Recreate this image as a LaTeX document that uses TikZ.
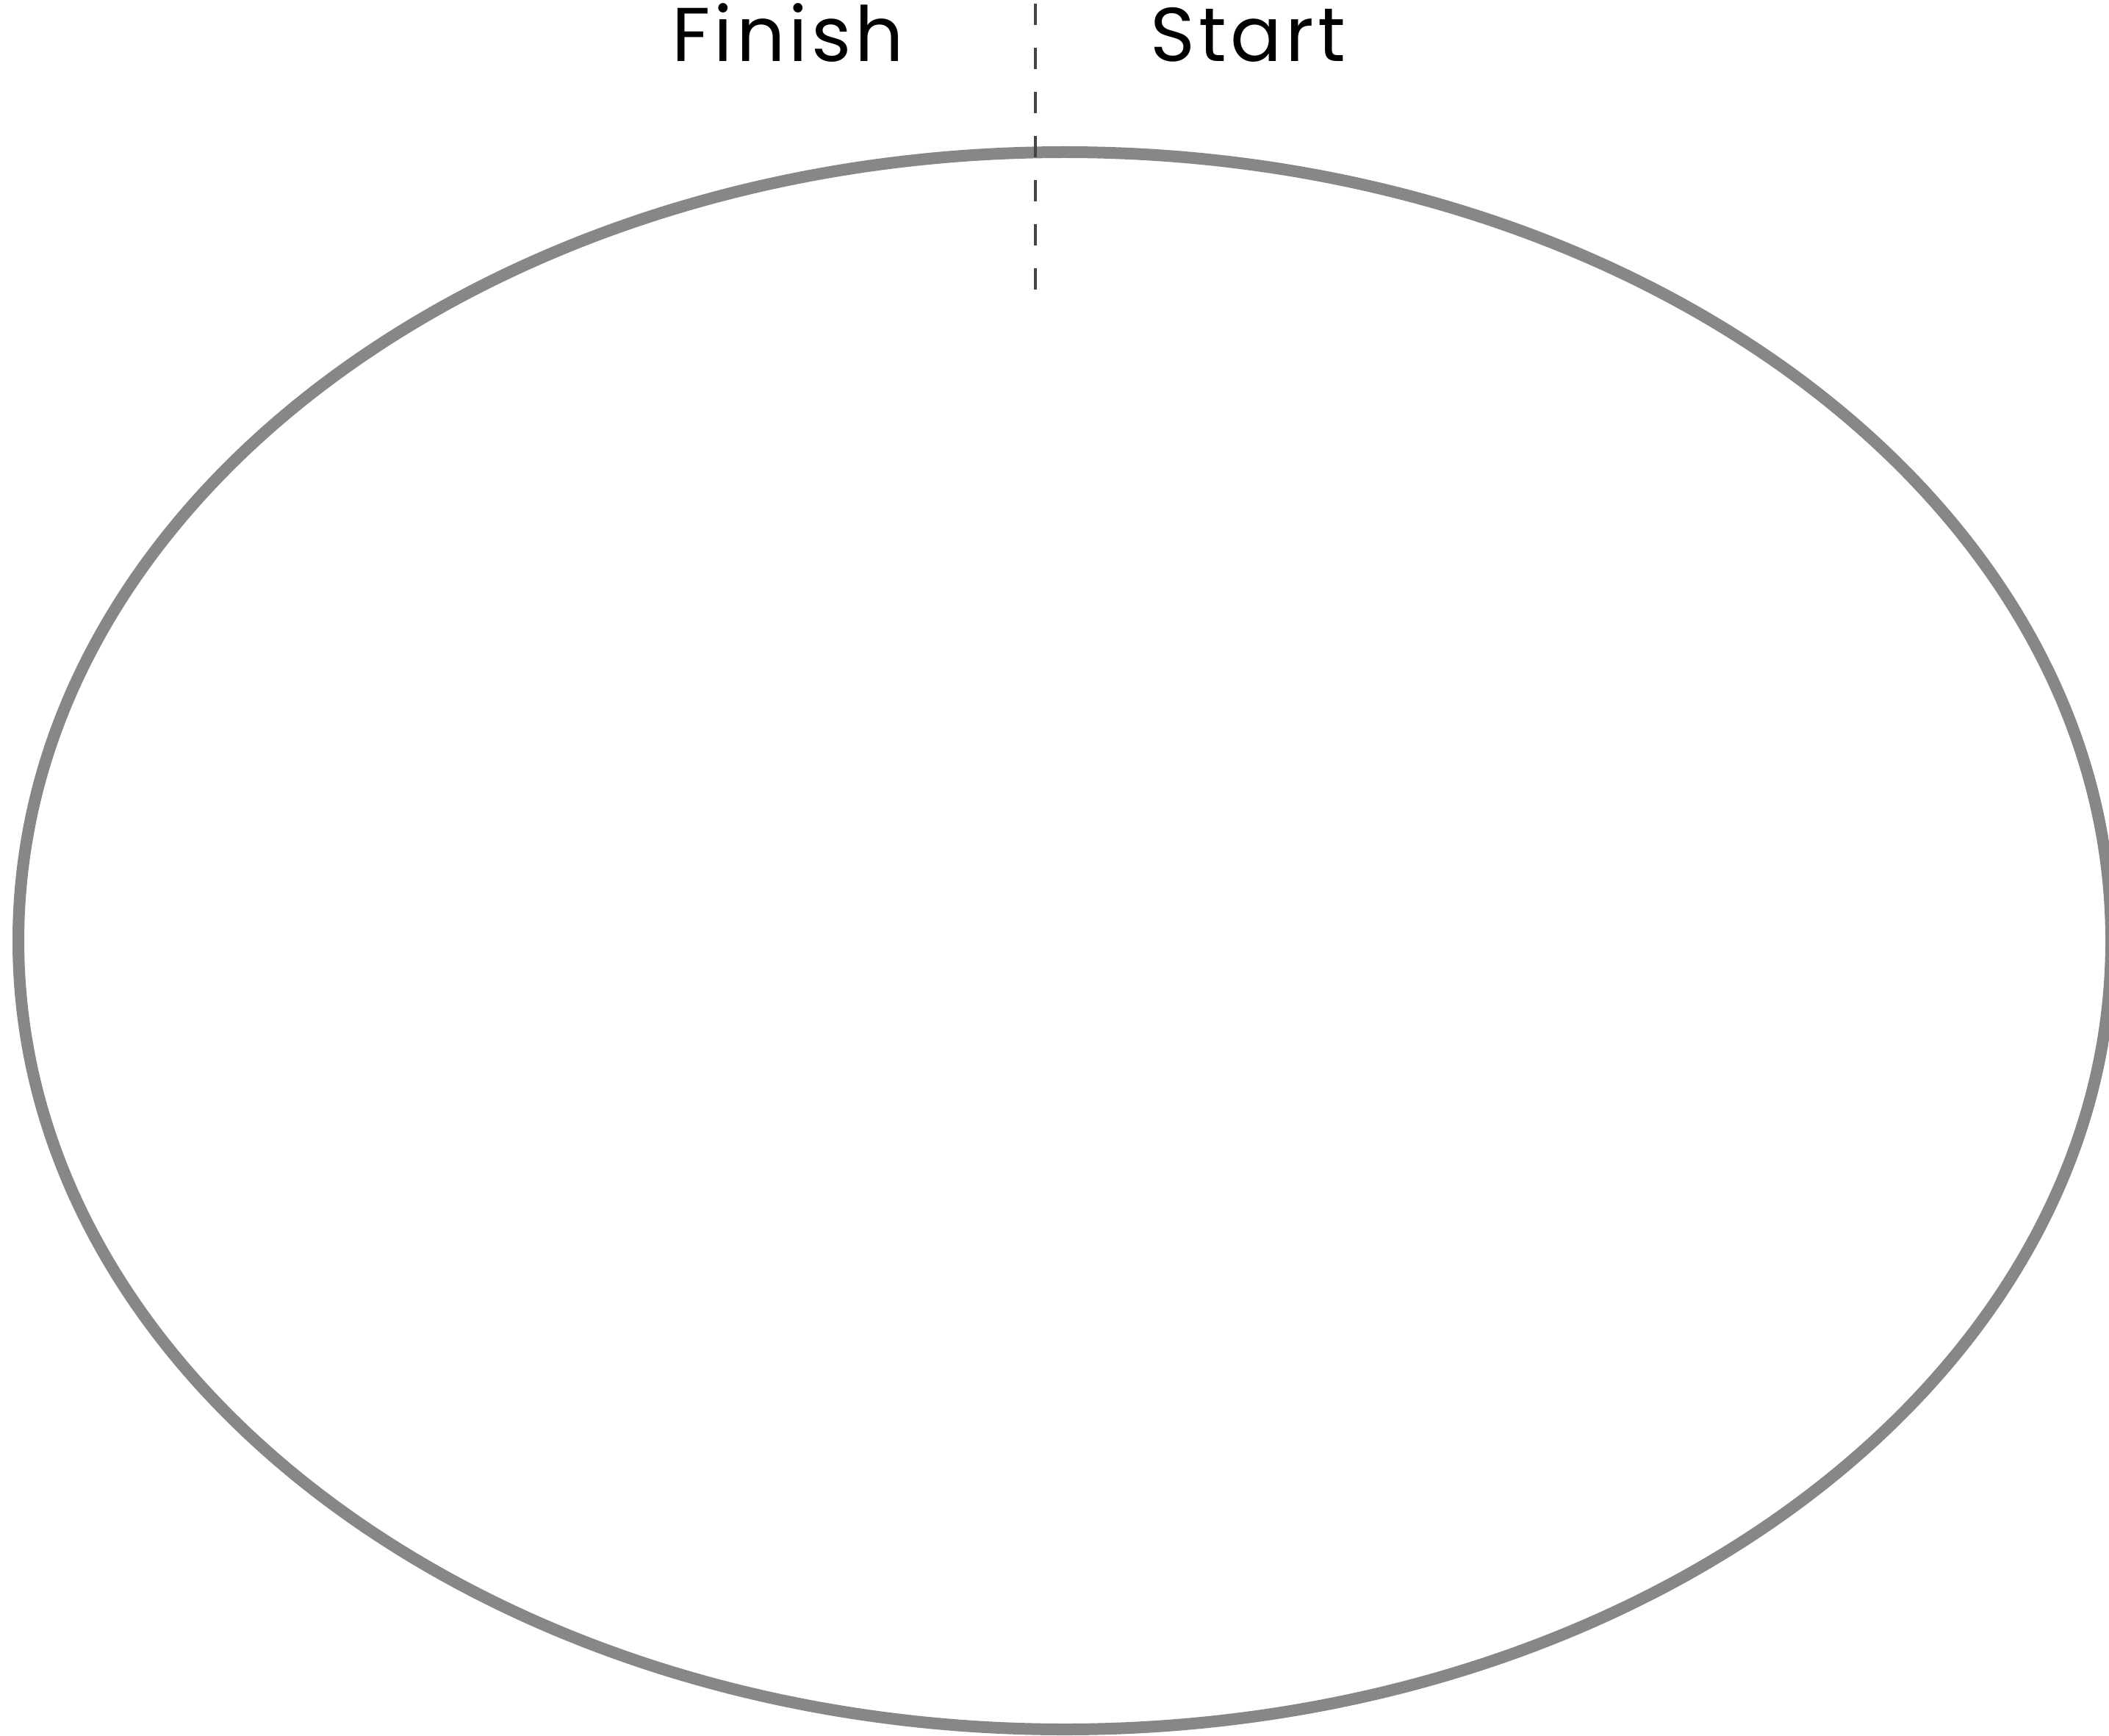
\documentclass[tikz,border=0pt]{standalone}
\usepackage{fontspec}
\setmainfont{Poppins}[LetterSpace=5]
\begin{document}
\begin{tikzpicture}[
  track/.style={draw={rgb,255:red,135;green,135;blue,135}, line width=0.16cm},
  divider/.style={draw={rgb,255:red,68;green,68;blue,68}, line width=0.035cm, dash pattern=on 0.29cm off 0.31cm},
  label/.style={font=\fontsize{29.5}{34}\selectfont, anchor=base, inner sep=0pt}
]
\useasboundingbox (0,0) rectangle (28.70,-23.62);
\draw[track] (14.49,-12.80) ellipse [x radius=14.24cm, y radius=10.73cm];
\coordinate (dtop) at (14.09,-0.05);
\coordinate (dbot) at (14.09,-3.94);
\draw[divider] (dtop) -- (dbot);
\node[label] (finish) at (10.72,-0.84) {Finish};
\node[label] (start) at (16.98,-0.84) {Start};
\end{tikzpicture}
\end{document}
